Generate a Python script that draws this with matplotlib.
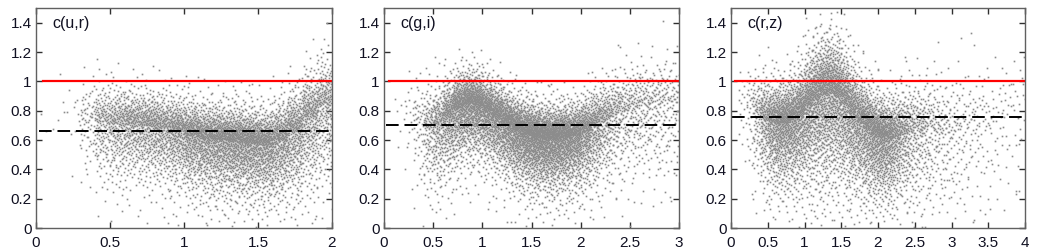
import numpy as np
import matplotlib.pyplot as plt

plt.rcParams['font.family'] = ['Liberation Sans', 'DejaVu Sans']

# Values: for every 0.1-wide x bin the centre of the cloud,
# its half-width (scale) and roughly how many points it holds
# c(u,r)
ur_x = [0.0, 0.1, 0.2, 0.3, 0.4, 0.5, 0.6, 0.7, 0.8, 0.9,
        1.0, 1.1, 1.2, 1.3, 1.4, 1.5, 1.6, 1.7, 1.8, 1.9]
ur_mid = [0.78, 0.80, 0.78, 0.74, 0.72, 0.71, 0.71, 0.70, 0.68, 0.66,
          0.63, 0.61, 0.60, 0.59, 0.58, 0.57, 0.60, 0.66, 0.76, 0.84]
ur_sc = [0.06, 0.06, 0.07, 0.07, 0.07, 0.07, 0.065, 0.065, 0.065, 0.065,
         0.065, 0.065, 0.065, 0.065, 0.065, 0.065, 0.07, 0.08, 0.085, 0.09]
ur_n = [2, 5, 12, 70, 170, 220, 250, 270, 280, 320,
        380, 400, 420, 440, 440, 420, 380, 350, 320, 260]

# c(g,i)
gi_x = [0.1, 0.2, 0.3, 0.4, 0.5, 0.6, 0.7, 0.8, 0.9, 1.0,
        1.1, 1.2, 1.3, 1.4, 1.5, 1.6, 1.7, 1.8, 1.9, 2.0,
        2.1, 2.2, 2.3, 2.4, 2.5, 2.6, 2.7, 2.8, 2.9]
gi_mid = [0.80, 0.78, 0.72, 0.68, 0.70, 0.76, 0.82, 0.85, 0.84, 0.80,
          0.76, 0.71, 0.67, 0.64, 0.62, 0.61, 0.61, 0.62, 0.63, 0.66,
          0.70, 0.74, 0.78, 0.80, 0.82, 0.83, 0.84, 0.85, 0.85]
gi_sc = [0.07, 0.07, 0.08, 0.08, 0.075, 0.07, 0.065, 0.06, 0.06, 0.06,
         0.06, 0.06, 0.06, 0.06, 0.06, 0.06, 0.06, 0.06, 0.06, 0.065,
         0.07, 0.07, 0.075, 0.08, 0.08, 0.08, 0.085, 0.09, 0.09]
gi_n = [5, 18, 50, 120, 190, 250, 320, 350, 350, 330,
        330, 350, 380, 400, 420, 420, 400, 380, 340, 280,
        220, 170, 130, 105, 95, 85, 75, 70, 60]

# c(r,z)
rz_x = [0.1, 0.2, 0.3, 0.4, 0.5, 0.6, 0.7, 0.8, 0.9, 1.0,
        1.1, 1.2, 1.3, 1.4, 1.5, 1.6, 1.7, 1.8, 1.9, 2.0,
        2.1, 2.2, 2.3, 2.4, 2.5, 2.6, 2.7, 2.8, 2.9, 3.0,
        3.1, 3.2, 3.3, 3.4, 3.5, 3.6, 3.7, 3.8, 3.9]
rz_mid = [0.85, 0.82, 0.78, 0.74, 0.72, 0.71, 0.72, 0.74, 0.78, 0.84,
          0.88, 0.91, 0.92, 0.90, 0.85, 0.78, 0.72, 0.68, 0.64, 0.62,
          0.61, 0.62, 0.64, 0.65, 0.66, 0.66, 0.66, 0.65, 0.65, 0.65,
          0.66, 0.67, 0.68, 0.70, 0.70, 0.72, 0.75, 0.80, 0.85]
rz_sc = [0.08, 0.08, 0.08, 0.08, 0.075, 0.075, 0.075, 0.08, 0.085, 0.095,
         0.105, 0.11, 0.11, 0.105, 0.1, 0.095, 0.085, 0.085, 0.08, 0.075,
         0.075, 0.08, 0.085, 0.09, 0.09, 0.1, 0.1, 0.1, 0.1, 0.11,
         0.11, 0.11, 0.11, 0.12, 0.12, 0.12, 0.12, 0.12, 0.12]
rz_n = [15, 35, 80, 160, 220, 260, 270, 270, 270, 280,
        290, 300, 300, 290, 270, 260, 250, 260, 270, 270,
        240, 190, 150, 115, 95, 80, 65, 55, 48, 40,
        36, 32, 28, 24, 21, 19, 17, 15, 14]

labels = ['c(u,r)', 'c(g,i)', 'c(r,z)']
x_max = [2, 3, 4]
mean_c = [0.66, 0.70, 0.76]
y_ticks = [0, 0.2, 0.4, 0.6, 0.8, 1, 1.2, 1.4]
y_tick_labels = ['0', '0.2', '0.4', '0.6', '0.8', '1', '1.2', '1.4']
x_tick_labels = ['0', '0.5', '1', '1.5', '2', '2.5', '3', '3.5', '4']


def radical_inverse(i, base):
    out = np.zeros(len(i))
    f = 1.0 / base
    i = i.copy()
    while np.any(i > 0):
        out += f * (i % base)
        i //= base
        f /= base
    return out


def cloud(xs, mids, scales, counts, width=0.1):
    # spread the points of each bin evenly (Halton sequence, shifted per bin)
    px, py = [], []
    start = 1
    for k, (x0, m, s, n) in enumerate(zip(xs, mids, scales, counts)):
        i = np.arange(start, start + n)
        start += n
        u = (radical_inverse(i, 3) + 0.37 * k) % 1.0
        v = (radical_inverse(i, 2) + 0.61 * k) % 1.0
        v = np.clip(v, 0.002, 0.998)
        q = np.log(v / (1 - v))
        y = m + np.where(q < 0, 1.8 * s, 1.0 * s) * q
        px.append(x0 + u * width)
        py.append(y)
    px = np.concatenate(px)
    py = np.concatenate(py)
    keep = (py >= 0) & (py <= 1.5)
    return px[keep], py[keep]


data = [(ur_x, ur_mid, ur_sc, ur_n), (gi_x, gi_mid, gi_sc, gi_n), (rz_x, rz_mid, rz_sc, rz_n)]
lefts = [36, 384, 731]
widths = [296, 295, 294]

fig = plt.figure(figsize=(10.38, 2.52), dpi=100)
for j in range(3):
    ax = fig.add_axes([lefts[j] / 1038, 24 / 252, widths[j] / 1038, 220 / 252])
    px, py = cloud(*data[j])
    ax.plot(px, py, linestyle='none', marker='s', markersize=1.2,
            markeredgewidth=0, color='#8c8c8c')
    ax.plot([0.05, x_max[j]], [1, 1], color='#ff0000', lw=1.6)
    ax.plot([0.02, x_max[j]], [mean_c[j], mean_c[j]], color='black', lw=1.4,
            dashes=(6.5, 3))
    ax.set_xlim(0, x_max[j])
    ax.set_ylim(0, 1.5)
    xt = np.arange(0, x_max[j] * 2 + 1) / 2
    ax.set_xticks(xt)
    ax.set_xticklabels(x_tick_labels[:len(xt)])
    ax.set_yticks(y_ticks)
    ax.set_yticklabels(y_tick_labels)
    ax.tick_params(direction='in', top=True, right=True, length=4, width=1,
                   color='#303030', labelsize=11, labelcolor='#111122')
    ax.tick_params(axis='y', pad=3)
    ax.tick_params(axis='x', pad=6)
    for sp in ax.spines.values():
        sp.set_color('#606060')
        sp.set_linewidth(1.0)
    ax.text(0.054, 0.93, labels[j], transform=ax.transAxes, fontsize=11.5,
            color='#111122', va='center')

fig.savefig('out.png', dpi=100)
